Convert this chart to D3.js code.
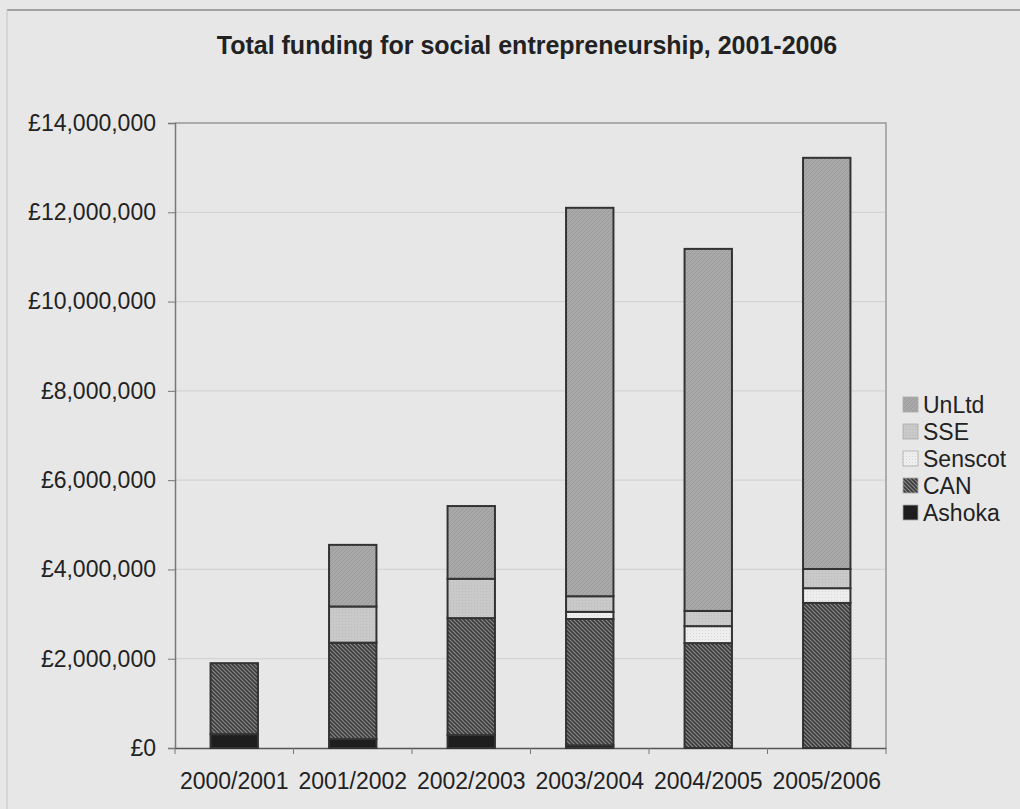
<!DOCTYPE html>
<meta charset="utf-8">
<script src="https://d3js.org/d3.v7.min.js"></script>
<style>
body { margin: 0; background: #e7e7e7; }
svg { display: block; }
text { font-family: "Liberation Sans", Arial, sans-serif; fill: #222; }
</style>
<body>
<div id="chart"></div>
<script>
// data (pounds)
var years   = ['2000/2001', '2001/2002', '2002/2003', '2003/2004', '2004/2005', '2005/2006'];
var ashoka  = [310000, 200000, 290000, 60000, 0, 0];
var can     = [1590000, 2160000, 2620000, 2830000, 2350000, 3250000];
var senscot = [0, 0, 0, 160000, 380000, 330000];
var sse     = [0, 810000, 880000, 350000, 340000, 430000];
var unltd   = [0, 1380000, 1630000, 8700000, 8110000, 9210000];
var seriesNames = ['Ashoka', 'CAN', 'Senscot', 'SSE', 'UnLtd'];
var yTicks = [0, 2000000, 4000000, 6000000, 8000000, 10000000, 12000000, 14000000];

var rows = years.map(function(y, i) {
    return {year: y, Ashoka: ashoka[i], CAN: can[i], Senscot: senscot[i], SSE: sse[i], UnLtd: unltd[i]};
});

var W = 1020, H = 809;
var margin = {top: 123, right: 134, bottom: 61, left: 175};
var w = W - margin.left - margin.right;
var h = H - margin.top - margin.bottom;

var svg = d3.select('#chart').append('svg')
    .attr('width', W)
    .attr('height', H);

// fill patterns for the grey-scale series
var defs = svg.append('defs');

var pUn = defs.append('pattern').attr('id', 'p-UnLtd')
    .attr('width', 4).attr('height', 4).attr('patternUnits', 'userSpaceOnUse');
pUn.append('rect').attr('width', 4).attr('height', 4).attr('fill', '#a9a9a9');
pUn.append('path').attr('d', 'M0,4 L4,0').attr('stroke', '#9a9a9a').attr('stroke-width', 1);

var pSse = defs.append('pattern').attr('id', 'p-SSE')
    .attr('width', 3).attr('height', 3).attr('patternUnits', 'userSpaceOnUse');
pSse.append('rect').attr('width', 3).attr('height', 3).attr('fill', '#c9c9c9');
pSse.append('rect').attr('width', 1).attr('height', 1).attr('fill', '#bdbdbd');

var pSen = defs.append('pattern').attr('id', 'p-Senscot')
    .attr('width', 3).attr('height', 3).attr('patternUnits', 'userSpaceOnUse');
pSen.append('rect').attr('width', 3).attr('height', 3).attr('fill', '#eeeeee');
pSen.append('rect').attr('width', 1).attr('height', 1).attr('fill', '#d8d8d8');

var pCan = defs.append('pattern').attr('id', 'p-CAN')
    .attr('width', 4).attr('height', 4).attr('patternUnits', 'userSpaceOnUse');
pCan.append('rect').attr('width', 4).attr('height', 4).attr('fill', '#8a8a8a');
pCan.append('path').attr('d', 'M-1,-1 L5,5 M-1,3 L1,5 M3,-1 L5,1')
    .attr('stroke', '#3a3a3a').attr('stroke-width', 1.6);

var fills = {Ashoka: '#1e1e1e', CAN: 'url(#p-CAN)', Senscot: 'url(#p-Senscot)', SSE: 'url(#p-SSE)', UnLtd: 'url(#p-UnLtd)'};

// outer frame lines of the scan
svg.append('line').attr('x1', 7).attr('x2', W).attr('y1', 10).attr('y2', 10)
    .attr('stroke', '#8c8c8c').attr('stroke-width', 1.5);
svg.append('line').attr('x1', 7).attr('x2', 7).attr('y1', 10).attr('y2', H)
    .attr('stroke', '#c4c4c4').attr('stroke-width', 1);

// scales
var x = d3.scaleBand()
    .domain(years)
    .range([margin.left, margin.left + w])
    .paddingInner(0.6)
    .paddingOuter(0.3);

var y = d3.scaleLinear()
    .domain([0, 14000000])
    .range([margin.top + h, margin.top]);

// gridlines
svg.append('g').selectAll('line')
    .data(yTicks.slice(1))
    .enter().append('line')
    .attr('x1', margin.left).attr('x2', margin.left + w)
    .attr('y1', function(d) { return y(d); })
    .attr('y2', function(d) { return y(d); })
    .attr('stroke', '#d4d4d4').attr('stroke-width', 1.2);

// plot border (top and right)
svg.append('path')
    .attr('d', 'M' + margin.left + ',' + margin.top + 'H' + (margin.left + w) + 'V' + (margin.top + h))
    .attr('fill', 'none').attr('stroke', '#9a9a9a').attr('stroke-width', 1.5);

// y axis
var fmt = function(d) { return '£' + d3.format(',')(d); };
var yAxis = svg.append('g')
    .attr('transform', 'translate(' + margin.left + ',0)')
    .call(d3.axisLeft(y).tickValues(yTicks).tickFormat(fmt).tickSize(7).tickPadding(12));
yAxis.select('.domain').attr('stroke', '#777').attr('stroke-width', 1.5);
yAxis.selectAll('.tick line').attr('stroke', '#777');
yAxis.selectAll('text').style('font-size', '23px').attr('fill', '#222');

// x axis, ticks on band boundaries
var xAxis = svg.append('g')
    .attr('transform', 'translate(0,' + (margin.top + h) + ')')
    .call(d3.axisBottom(x).tickSize(0).tickPadding(25));
xAxis.select('.domain').attr('stroke', '#555').attr('stroke-width', 1.5);
xAxis.selectAll('text').style('font-size', '23px').attr('fill', '#222');

var bounds = years.map(function(d) { return x(d) - x.step() * 0.3; });
bounds.push(margin.left + w);
svg.append('g').selectAll('line')
    .data(bounds)
    .enter().append('line')
    .attr('x1', function(d) { return d; }).attr('x2', function(d) { return d; })
    .attr('y1', margin.top + h).attr('y2', margin.top + h + 6)
    .attr('stroke', '#777');

// stacked bars
var stack = d3.stack().keys(seriesNames)(rows);

var layer = svg.append('g').selectAll('g')
    .data(stack)
    .enter().append('g')
    .attr('fill', function(d) { return fills[d.key]; });

layer.selectAll('rect')
    .data(function(d) { return d.filter(function(s) { return s[1] - s[0] > 0; }); })
    .enter().append('rect')
    .attr('x', function(d) { return x(d.data.year); })
    .attr('width', x.bandwidth())
    .attr('y', function(d) { return y(d[1]); })
    .attr('height', function(d) { return y(d[0]) - y(d[1]); })
    .attr('stroke', '#333')
    .attr('stroke-width', 2);

// title
svg.append('text')
    .text('Total funding for social entrepreneurship, 2001-2006')
    .attr('text-anchor', 'middle')
    .attr('x', 527)
    .attr('y', 54)
    .style('font-size', '25px')
    .style('font-weight', 'bold');

// legend, top entry is UnLtd
var legendNames = seriesNames.slice().reverse();
var legend = svg.selectAll('.legend')
    .data(legendNames)
    .enter().append('g')
    .attr('class', 'legend')
    .attr('transform', function(d, i) { return 'translate(903,' + (405 + i * 27) + ')'; });

legend.append('rect')
    .attr('x', 0).attr('y', -8)
    .attr('width', 15).attr('height', 15)
    .attr('fill', function(d) { return fills[d]; })
    .attr('stroke', '#aaa').attr('stroke-width', 0.8);

legend.append('text')
    .attr('x', 20)
    .attr('y', 8)
    .style('font-size', '23px')
    .text(function(d) { return d; });
</script>
</body>
